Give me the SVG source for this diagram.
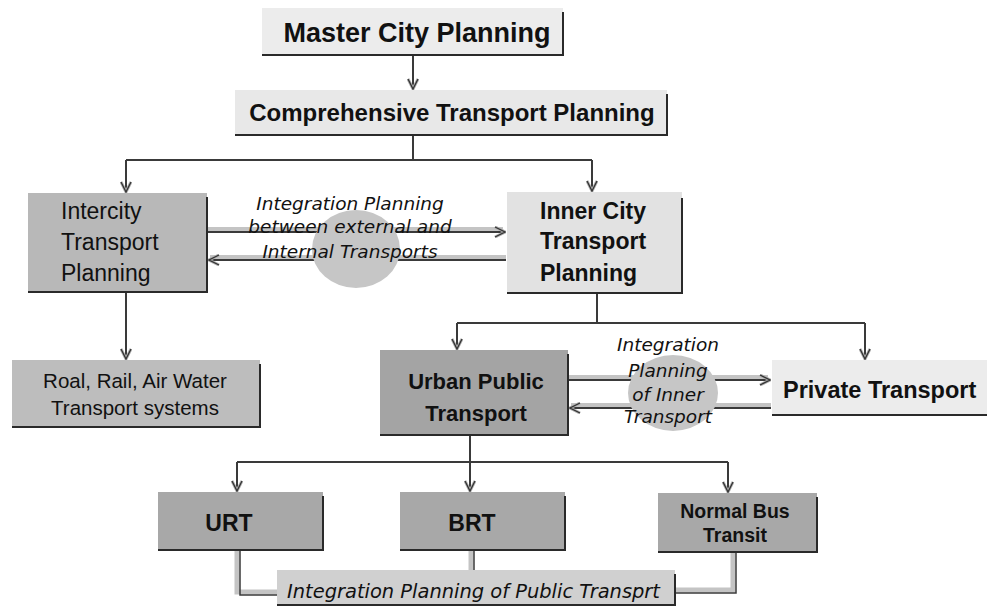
<svg xmlns="http://www.w3.org/2000/svg" width="987" height="607" viewBox="0 0 987 607">
<defs>
<marker id="chev" viewBox="0 0 12 12" refX="11" refY="6" markerWidth="12" markerHeight="12" markerUnits="userSpaceOnUse" orient="auto">
<path d="M1,1 L11,6 L1,11" fill="none" stroke="#b0b0b0" stroke-width="3"/>
<path d="M1,1 L11,6 L1,11" fill="none" stroke="#333" stroke-width="1.3"/>
</marker>
</defs>
<style>
.sh{fill:none;stroke:#2a2a2a;stroke-width:2}
.b{font-family:"Liberation Sans",Arial,sans-serif;font-weight:bold;fill:#111}
.r{font-family:"Liberation Sans",Arial,sans-serif;fill:#111}
.i{font-family:"DejaVu Sans",sans-serif;font-style:italic;fill:#111}
.c{fill:none;stroke:#3a3a3a;stroke-width:2}
.band{fill:none;stroke:#c4c4c4;stroke-width:4}
</style>
<rect width="987" height="607" fill="#fff"/>

<g id="connectors">
<path class="c" d="M413,55 V89" marker-end="url(#chev)"/>
<path class="c" d="M413,135 V160 M126,160 H592"/>
<path class="c" d="M126,160 V192" marker-end="url(#chev)"/>
<path class="c" d="M592,160 V191" marker-end="url(#chev)"/>
<path class="c" d="M126,292 V359" marker-end="url(#chev)"/>
<path class="c" d="M597,293 V323 M457,323 H865"/>
<path class="c" d="M457,323 V349" marker-end="url(#chev)"/>
<path class="c" d="M865,323 V359" marker-end="url(#chev)"/>
<path class="c" d="M470,435 V462 M237,462 H728"/>
<path class="c" d="M237,462 V491" marker-end="url(#chev)"/>
<path class="c" d="M470,462 V491" marker-end="url(#chev)"/>
<path class="c" d="M728,462 V492" marker-end="url(#chev)"/>
<path class="band" d="M208,229 H503"/>
<path class="c" d="M208,232 H505" marker-end="url(#chev)"/>
<path class="band" d="M506,257 H210"/>
<path class="c" d="M506,260 H209" marker-end="url(#chev)"/>
<path class="band" d="M569,377 H768"/>
<path class="c" d="M569,380 H770" marker-end="url(#chev)"/>
<path class="band" d="M771,405 H571"/>
<path class="c" d="M771,408 H570" marker-end="url(#chev)"/>
<path d="M237,550 V592 H278" fill="none" stroke="#c4c4c4" stroke-width="5"/>
<path d="M240,550 V595 H278" fill="none" stroke="#3a3a3a" stroke-width="1.5"/>
<path d="M471,550 V572" fill="none" stroke="#c4c4c4" stroke-width="5"/>
<path d="M474,550 V572" fill="none" stroke="#3a3a3a" stroke-width="1.5"/>
<path d="M733,552 V590 H675" fill="none" stroke="#c4c4c4" stroke-width="5"/>
<path d="M736,552 V593 H675" fill="none" stroke="#3a3a3a" stroke-width="1.5"/>
</g>

<g id="circle1"><ellipse cx="356" cy="249" rx="44" ry="39" fill="#c6c6c6"/></g>
<g id="circle2"><ellipse cx="673" cy="393" rx="45" ry="38" fill="#c6c6c6"/></g>

<g id="master">
<rect x="262" y="8" width="301" height="47" fill="#ececec"/>
<path class="sh" d="M262,55 H563 V12"/>
<text class="b" x="417" y="42" font-size="27" text-anchor="middle">Master City Planning</text>
</g>

<g id="comprehensive">
<rect x="235" y="90" width="432" height="45" fill="#e8e8e8"/>
<path class="sh" d="M235,135 H667 V94"/>
<text class="b" x="452" y="121" font-size="24" text-anchor="middle">Comprehensive Transport Planning</text>
</g>

<g id="intercity">
<rect x="28" y="193" width="179" height="99" fill="#b8b8b8"/>
<path class="sh" d="M28,292 H207 V197"/>
<text class="r" font-size="23"><tspan x="61" y="219">Intercity</tspan><tspan x="61" y="250">Transport</tspan><tspan x="61" y="281">Planning</tspan></text>
</g>

<g id="innercity">
<rect x="507" y="192" width="175" height="101" fill="#e2e2e2"/>
<path class="sh" d="M507,293 H682 V198"/>
<text class="b" font-size="23"><tspan x="540" y="219">Inner City</tspan><tspan x="540" y="249">Transport</tspan><tspan x="540" y="281">Planning</tspan></text>
</g>

<g id="label1">
<text class="i" font-size="18.5" text-anchor="middle"><tspan x="350" y="210">Integration Planning</tspan><tspan x="350" y="233">between external and</tspan><tspan x="350" y="258">Internal Transports</tspan></text>
</g>

<g id="roal">
<rect x="12" y="360" width="248" height="67" fill="#bdbdbd"/>
<path class="sh" d="M12,427 H260 V364"/>
<text class="r" font-size="20.5" text-anchor="middle"><tspan x="135" y="388">Roal, Rail, Air Water</tspan><tspan x="135" y="415">Transport systems</tspan></text>
</g>

<g id="urban">
<rect x="380" y="350" width="188" height="85" fill="#a4a4a4"/>
<path class="sh" d="M380,435 H568 V354"/>
<text class="b" font-size="22" text-anchor="middle"><tspan x="476" y="389">Urban Public</tspan><tspan x="476" y="421">Transport</tspan></text>
</g>

<g id="private">
<rect x="772" y="360" width="215" height="55" fill="#ececec"/>
<path class="sh" d="M772,415 H987"/>
<text class="b" x="783" y="398" font-size="23.5">Private Transport</text>
</g>

<g id="label2">
<text class="i" font-size="18.5" text-anchor="middle"><tspan x="668" y="351">Integration</tspan><tspan x="668" y="377">Planning</tspan><tspan x="668" y="401">of Inner</tspan><tspan x="668" y="423">Transport</tspan></text>
</g>

<g id="urt">
<rect x="158" y="492" width="165" height="58" fill="#a8a8a8"/>
<path class="sh" d="M158,550 H323 V496"/>
<text class="b" x="229" y="531" font-size="23" text-anchor="middle">URT</text>
</g>

<g id="brt">
<rect x="400" y="492" width="165" height="58" fill="#a8a8a8"/>
<path class="sh" d="M400,550 H565 V496"/>
<text class="b" x="472" y="531" font-size="23" text-anchor="middle">BRT</text>
</g>

<g id="normalbus">
<rect x="658" y="493" width="159" height="59" fill="#a8a8a8"/>
<path class="sh" d="M658,552 H817 V497"/>
<text class="b" font-size="19.5" text-anchor="middle"><tspan x="735" y="518">Normal Bus</tspan><tspan x="735" y="542">Transit</tspan></text>
</g>

<g id="publicintegration">
<rect x="277" y="570" width="398" height="35" fill="#d0d0d0"/>
<path class="sh" d="M277,605 H675 V574"/>
<text class="i" x="287" y="598" font-size="20" textLength="373" lengthAdjust="spacingAndGlyphs">Integration Planning of Public Transprt</text>
</g>
</svg>
